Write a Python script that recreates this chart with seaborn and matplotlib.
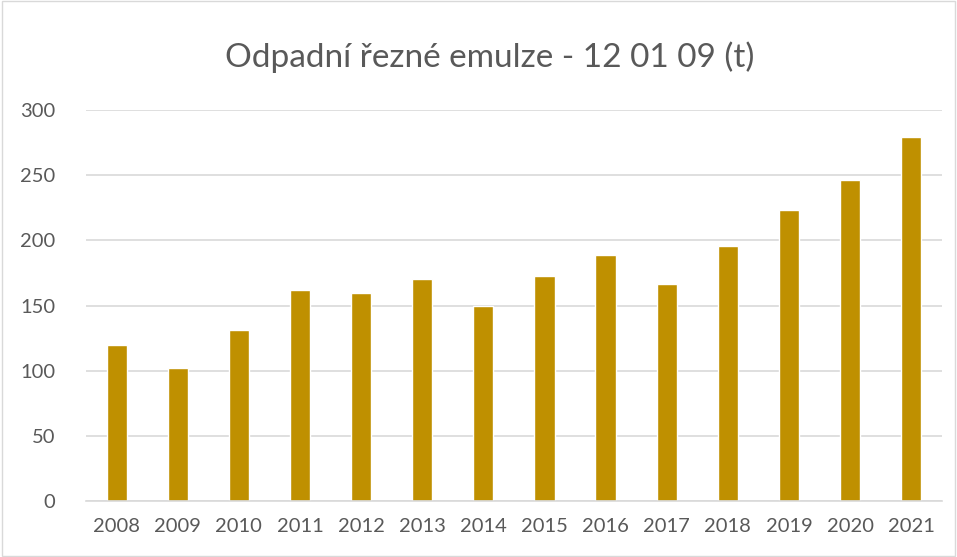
import matplotlib
matplotlib.use("Agg")
import matplotlib.pyplot as plt
import seaborn as sns
import pandas as pd

# values (t)
years = ["2008", "2009", "2010", "2011", "2012", "2013", "2014",
         "2015", "2016", "2017", "2018", "2019", "2020", "2021"]
tonnes = [119.5, 102, 131, 162, 159.5, 170.5, 149.5,
          172.5, 189, 166.5, 195.5, 223, 246.5, 279.5]

df = pd.DataFrame({"rok": years, "t": tonnes})

sns.set_theme(style="white")
plt.rcParams["font.family"] = ["Lato", "DejaVu Sans"]

fig = plt.figure(figsize=(9.57, 5.57), dpi=100)
ax = fig.add_axes([0.09, 0.1005, 0.894, 0.702])

sns.barplot(data=df, x="rok", y="t", color="#BF9000", width=0.33,
            saturation=1, ax=ax)

ax.set_ylim(0, 300)
ax.set_yticks(range(0, 301, 50))
ax.yaxis.grid(True, color="#D9D9D9", linewidth=1.2)
ax.set_axisbelow(True)
for s in ["top", "right", "left"]:
    ax.spines[s].set_visible(False)
ax.spines["bottom"].set_color("#D9D9D9")
ax.spines["bottom"].set_linewidth(1.2)
ax.tick_params(axis="both", length=0, labelsize=14.5, colors="#595959", pad=12)
ax.tick_params(axis="y", pad=22)
ax.set_xlabel("")
ax.set_ylabel("")

fig.suptitle("Odpadní řezné emulze - 12 01 09 (t)", x=0.512, y=0.925,
             fontsize=24, color="#595959")

# thin border around the chart area
fig.patches.append(plt.Rectangle((0.002, 0.002), 0.996, 0.996,
                                 transform=fig.transFigure, fill=False,
                                 edgecolor="#D9D9D9", linewidth=1))

plt.savefig("out.png", dpi=100)
plt.close()
